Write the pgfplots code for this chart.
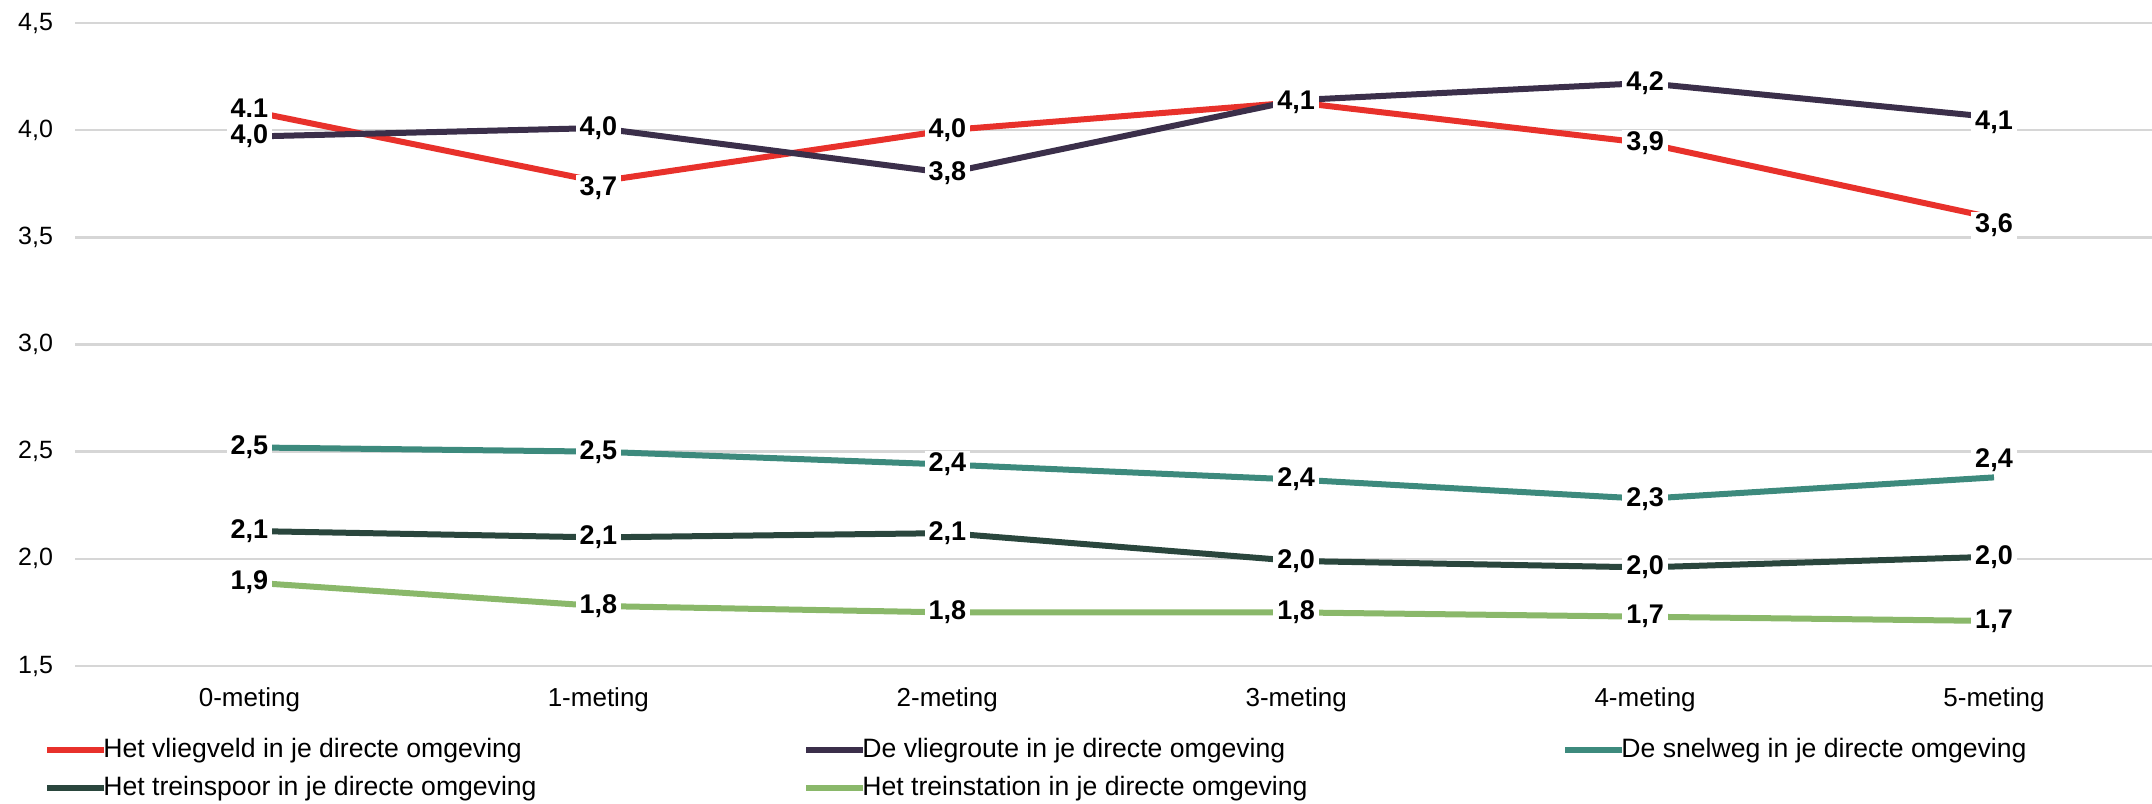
\documentclass[border=0pt]{standalone}
\usepackage{fontspec}
\setmainfont{Liberation Sans}
\usepackage{pgfplots}
\usepackage{pgfplotstable}
\pgfplotsset{compat=1.18}
\definecolor{cred}{HTML}{E8312B}
\definecolor{cpurple}{HTML}{3B2F4A}
\definecolor{cteal}{HTML}{3D8A7D}
\definecolor{cdark}{HTML}{2A463D}
\definecolor{clight}{HTML}{8AB86A}
\definecolor{gridgray}{HTML}{D6D6D6}

\pgfplotstableread{
x a la ay b lb by c lc cy d ld dy e le ey
0 4.09 4.1 1.5 3.97 4,0 0 2.52 2,5 0 2.13 2,1 0 1.89 1,9 0
1 3.76 3,7 -3.5 4.01 4,0 0 2.50 2,5 0 2.10 2,1 0 1.78 1,8 0
2 4.00 4,0 0 3.80 3,8 0 2.44 2,4 0 2.12 2,1 0 1.75 1,8 0
3 4.13 4,1 0 4.14 4,1 -1 2.37 2,4 0 1.99 2,0 0 1.75 1,8 0
4 3.94 3,9 0 4.22 4,2 0 2.28 2,3 0 1.96 2,0 0 1.73 1,7 0
5 3.59 3,6 -3.5 4.06 4,1 -2.5 2.38 2,4 8.5 2.01 2,0 0 1.71 1,7 0
}\data

\begin{document}
\begin{tikzpicture}
\begin{axis}[
  name=ax,
  scale only axis,
  width=1038.5pt, height=321.5pt,
  xmin=-0.5, xmax=5.453,
  ymin=1.5, ymax=4.5,
  clip=false,
  axis line style={draw=none},
  major tick length=0pt,
  xtick={0,1,2,3,4,5},
  xticklabels={0-meting,1-meting,2-meting,3-meting,4-meting,5-meting},
  ytick={1.5,2,2.5,3,3.5,4,4.5},
  ymajorgrids,
  grid style={line width=1.2pt, color=gridgray},
  /pgf/number format/assume math mode=true,
  yticklabel style={/pgf/number format/.cd, fixed, fixed zerofill, precision=1, use comma, /tikz/.cd,
     font=\fontsize{12.5}{14}\selectfont, xshift=-7.5pt},
  xticklabel style={font=\fontsize{13}{15}\selectfont, yshift=-7.5pt},
  legend columns=3,
  legend style={at={(axis description cs:0,0)}, anchor=north west,
     xshift=-15.5pt, yshift=-32.5pt, draw=none, fill=none, inner sep=0pt,
     font=\fontsize{13.3}{15}\selectfont,
     nodes={inner xsep=1pt, inner ysep=3.35pt, text height=9.5pt, text depth=2.8pt},
     /tikz/every odd column/.append style={column sep=-3pt},
     /tikz/every even column/.append style={column sep=0pt}},
  legend cell align=left,
  legend image code/.code={\draw[#1, line width=3pt] (0pt,0pt) -- (28.5pt,0pt);},
  every axis plot/.append style={line width=3pt},
]
\addplot[cred] table[x=x, y=a] {\data};
\addlegendentry{\makebox[349pt][l]{Het vliegveld in je directe omgeving}}
\addplot[cpurple] table[x=x, y=b] {\data};
\addlegendentry{\makebox[349pt][l]{De vliegroute in je directe omgeving}}
\addplot[cteal] table[x=x, y=c] {\data};
\addlegendentry{\makebox[349pt][l]{De snelweg in je directe omgeving}}
\addplot[cdark] table[x=x, y=d] {\data};
\addlegendentry{\makebox[349pt][l]{Het treinspoor in je directe omgeving}}
\addplot[clight] table[x=x, y=e] {\data};
\addlegendentry{\makebox[349pt][l]{Het treinstation in je directe omgeving}}

\pgfplotsset{lbl/.style={draw=none, mark=none, forget plot,
   nodes near coords, point meta=explicit symbolic,
   visualization depends on={\thisrow{#1} \as \dyv},
   every node near coord/.style={anchor=center, fill=white, inner xsep=2pt, inner ysep=1pt,
     font=\fontsize{13.5}{15}\selectfont\bfseries, text=black, yshift=\dyv pt}}}
\addplot[lbl=ay] table[x=x, y=a, meta=la] {\data};
\addplot[lbl=by] table[x=x, y=b, meta=lb] {\data};
\addplot[lbl=cy] table[x=x, y=c, meta=lc] {\data};
\addplot[lbl=dy] table[x=x, y=d, meta=ld] {\data};
\addplot[lbl=ey] table[x=x, y=e, meta=le] {\data};
\end{axis}
\pgfresetboundingbox
\path (ax.south west) ++(-37.5pt,-68.5pt) rectangle ++(1076pt,401.5pt);
\end{tikzpicture}
\end{document}
